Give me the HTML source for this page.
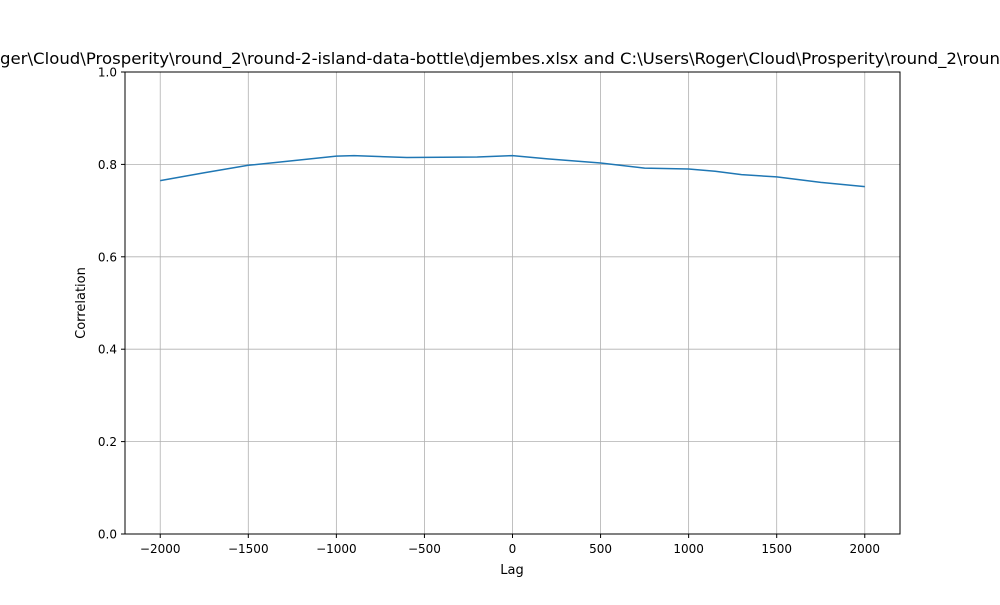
<!DOCTYPE html>
<html><head><meta charset="utf-8"><style>
body{margin:0;background:#fff}
svg text{font-family:"DejaVu Sans","Liberation Sans",sans-serif;}
</style></head><body>
<svg id="chart" width="1000" height="600" viewBox="0 0 1000 600" xmlns="http://www.w3.org/2000/svg">
<rect width="1000" height="600" fill="#fff"/>
<g id="grid"></g>
<g id="ticks"></g>
<path id="line" fill="none" stroke="#1f77b4" stroke-width="1.5"/>
<rect x="125" y="72" width="775" height="462" fill="none" stroke="#000" stroke-width="1"/>
<text x="0" y="64" font-size="16" textLength="1000" lengthAdjust="spacingAndGlyphs">ger\Cloud\Prosperity\round_2\round-2-island-data-bottle\djembes.xlsx and C:\Users\Roger\Cloud\Prosperity\round_2\roun</text>
<text x="512" y="574" font-size="13" text-anchor="middle">Lag</text>
<text transform="translate(85,303) rotate(-90)" font-size="13" text-anchor="middle">Correlation</text>
</svg>
<script>
const lags = [-2000,-1750,-1500,-1250,-1000,-900,-600,-200,0,200,500,750,1000,1150,1300,1500,1750,2000];
const corr = [0.765,0.782,0.798,0.808,0.818,0.819,0.815,0.816,0.819,0.812,0.803,0.792,0.790,0.785,0.778,0.773,0.761,0.752];
const xTicks = [-2000,-1500,-1000,-500,0,500,1000,1500,2000];
const xTickLabels = ["\u22122000","\u22121500","\u22121000","\u2212500","0","500","1000","1500","2000"];
const yTicks = [0,0.2,0.4,0.6,0.8,1.0];
const yTickLabels = ["0.0","0.2","0.4","0.6","0.8","1.0"];
const X0=125,X1=900,Y0=534,Y1=72,xmin=-2200,xmax=2200,ymin=0,ymax=1;
function xs(v){return X0+(v-xmin)/(xmax-xmin)*(X1-X0);}
function ys(v){return Y0-(v-ymin)/(ymax-ymin)*(Y0-Y1);}
const NS="http://www.w3.org/2000/svg";
const grid=document.getElementById('grid'),ticks=document.getElementById('ticks');
function mk(t,a,p){const e=document.createElementNS(NS,t);for(const k in a)e.setAttribute(k,a[k]);p.appendChild(e);return e;}
xTicks.forEach((v,i)=>{const x=xs(v);
 const g=mk('line',{x1:x,x2:x,y1:Y1,y2:Y0,stroke:'#b0b0b0','stroke-width':0.8},grid);
 
 
 const t=mk('line',{x1:x,x2:x,y1:Y0,y2:Y0+4,stroke:'#000'},ticks);
 
 
 const l=mk('text',{x:x,y:Y0+19,'font-size':12,'text-anchor':'middle'},ticks);l.textContent=xTickLabels[i];
 
 
});
yTicks.forEach((v,i)=>{const y=ys(v);
 const g=mk('line',{x1:X0,x2:X1,y1:y,y2:y,stroke:'#b0b0b0','stroke-width':0.8},grid);
 
 
 const t=mk('line',{x1:X0-4,x2:X0,y1:y,y2:y,stroke:'#000'},ticks);
 
 
 const l=mk('text',{x:X0-8,y:y+4.5,'font-size':12,'text-anchor':'end'},ticks);l.textContent=yTickLabels[i];
 
 
});
document.getElementById('line').setAttribute('d',lags.map((v,i)=>(i?'L':'M')+xs(v).toFixed(1)+','+ys(corr[i]).toFixed(1)).join(''));
</script>
</body></html>
